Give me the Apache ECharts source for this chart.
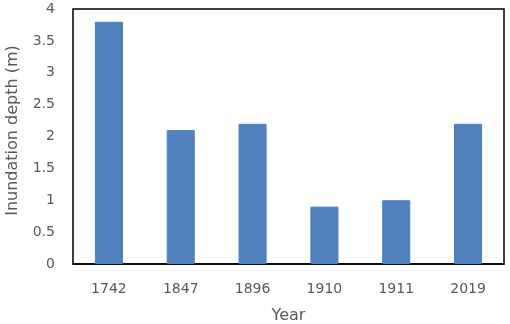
<!DOCTYPE html>
<html>
<head>
<meta charset="utf-8">
<script src="https://cdn.jsdelivr.net/npm/echarts@6/dist/echarts.min.js"></script>
<style>
  html, body { margin: 0; padding: 0; background: #fff; }
  #chart { width: 510px; height: 324px; }
</style>
</head>
<body>
<div id="chart"></div>
<script>
var years = ['1742', '1847', '1896', '1910', '1911', '2019'];
var depths = [3.8, 2.1, 2.2, 0.9, 1.0, 2.2];

var chart = echarts.init(document.getElementById('chart'));
var textColor = '#595959';
var font = 'DejaVu Sans, sans-serif';

chart.setOption({
    animation: false,
    grid: {
        left: 73, top: 9, right: 6, bottom: 60,
        outerBoundsMode: 'none',
        containLabel: false,
        show: true,
        borderColor: '#000',
        borderWidth: 1.5
    },
    xAxis: {
        type: 'category',
        data: years,
        name: 'Year',
        nameLocation: 'middle',
        nameGap: 44,
        nameTextStyle: { color: textColor, fontSize: 16, fontFamily: font },
        axisLine: { lineStyle: { color: '#000', width: 1.5 } },
        axisTick: { show: false },
        axisLabel: { color: textColor, fontSize: 14, fontFamily: font, margin: 18 }
    },
    yAxis: {
        type: 'value',
        min: 0,
        max: 4,
        interval: 0.5,
        name: 'Inundation depth (m)',
        nameLocation: 'middle',
        nameGap: 52,
        nameTextStyle: { color: textColor, fontSize: 16, fontFamily: font, padding: [0, 0, 0, 12] },
        axisLine: { show: false },
        axisTick: { show: false },
        splitLine: { show: false },
        axisLabel: { color: textColor, fontSize: 14, fontFamily: font, margin: 18 }
    },
    series: [{
        type: 'bar',
        data: depths,
        barWidth: '39%',
        itemStyle: {
            color: '#4f81bd',
            borderColor: '#4a7ebb',
            borderWidth: 1
        }
    }]
});
</script>
</body>
</html>
